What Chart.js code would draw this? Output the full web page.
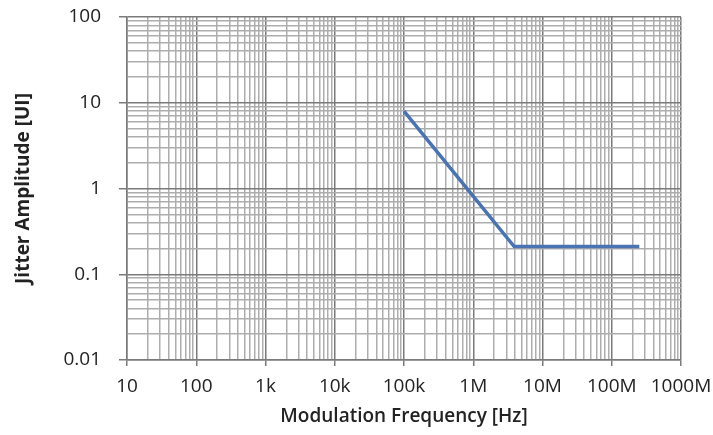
<!DOCTYPE html>
<html>
<head>
<meta charset="utf-8">
<script src="https://cdn.jsdelivr.net/npm/chart.js@4.4.1/dist/chart.umd.min.js"></script>
<style>
  html, body { margin: 0; padding: 0; background: #fff; }
  #wrap { width: 713px; height: 435px; }
</style>
</head>
<body>
<div id="wrap"><canvas id="jitterChart"></canvas></div>
<script>
// jitter tolerance mask: frequency (Hz) vs amplitude (UI)
const freqHz = [1e5, 3.9e6, 2.5e8];
const jitterUI = [8, 0.21, 0.21];

// decade ticks and the text shown under them
const xTickValues = [1e1, 1e2, 1e3, 1e4, 1e5, 1e6, 1e7, 1e8, 1e9];
const xTickLabels = ['10', '100', '1k', '10k', '100k', '1M', '10M', '100M', '1000M'];
const yTickValues = [0.01, 0.1, 1, 10, 100];
const yTickLabels = ['0.01', '0.1', '1', '10', '100'];

const ctx = document.getElementById('jitterChart');

// 1..9 inside every decade, so each minor line gets drawn
const decadeTicks = (majors) => {
	const out = [];
	for (let i = 0; i < majors.length - 1; i++) {
		for (let m = 1; m < 10; m++) {
			out.push({ value: majors[i] * m, major: m === 1 });
		}
	}
	out.push({ value: majors[majors.length - 1], major: true });
	return out;
};

const isMajor = (v, majors) => majors.some((m) => Math.abs(v / m - 1) < 1e-6);

const labelFor = (v, majors, labels) => {
	const i = majors.findIndex((m) => Math.abs(v / m - 1) < 1e-6);
	return i >= 0 ? labels[i] : '';
};

const gridColor = (majors) => (c) => (c.tick && isMajor(c.tick.value, majors) ? '#7a7a7a' : '#adadad');
const tickColor = (majors) => (c) => (c.tick && isMajor(c.tick.value, majors) ? '#7a7a7a' : 'rgba(0,0,0,0)');

const points = freqHz.map((f, i) => ({ x: f, y: jitterUI[i] }));

new Chart(ctx, {
	type: 'line',
	data: {
		datasets: [
			{
				data: points,
				borderColor: '#4a73b3',
				borderWidth: 3.5,
				pointRadius: 0,
				tension: 0,
				fill: false,
			},
		],
	},
	options: {
		responsive: true,
		maintainAspectRatio: false,
		animation: false,
		devicePixelRatio: 1,
		layout: { padding: { top: 17, right: 32, left: 0, bottom: 0 } },
		plugins: {
			legend: { display: false },
			tooltip: { enabled: false },
		},
		scales: {
			x: {
				type: 'logarithmic',
				min: 10,
				max: 1e9,
				border: { display: true, color: '#7a7a7a', width: 1.5 },
				grid: {
					color: gridColor(xTickValues),
					tickColor: tickColor(xTickValues),
					lineWidth: 1.5,
					tickLength: 6,
				},
				afterBuildTicks: (scale) => {
					scale.ticks = decadeTicks(xTickValues);
				},
				afterFit: (scale) => {
					scale.height = 75;
					scale.paddingLeft = 0;
					scale.paddingRight = 0;
				},
				ticks: {
					autoSkip: false,
					maxRotation: 0,
					padding: 9,
					color: '#222',
					font: { family: 'Open Sans', size: 19 },
					callback: (v) => labelFor(v, xTickValues, xTickLabels),
				},
				title: {
					display: true,
					text: 'Modulation Frequency [Hz]',
					color: '#222',
					font: { family: 'Open Sans', size: 19, weight: '600' },
					padding: { top: 0, bottom: 7 },
				},
			},
			y: {
				type: 'logarithmic',
				min: 0.01,
				max: 100,
				border: { display: true, color: '#7a7a7a', width: 1.5 },
				grid: {
					color: gridColor(yTickValues),
					tickColor: tickColor(yTickValues),
					lineWidth: 1.5,
					tickLength: 8,
				},
				afterBuildTicks: (scale) => {
					scale.ticks = decadeTicks(yTickValues);
				},
				afterFit: (scale) => {
					scale.width = 127;
					scale.paddingTop = 0;
					scale.paddingBottom = 0;
				},
				ticks: {
					autoSkip: false,
					padding: 18,
					color: '#222',
					font: { family: 'Open Sans', size: 19 },
					callback: (v) => labelFor(v, yTickValues, yTickLabels),
				},
				title: {
					display: true,
					text: 'Jitter Amplitude [UI]',
					color: '#222',
					font: { family: 'Open Sans', size: 19, weight: 'bold' },
					padding: { top: 12, bottom: 0 },
				},
			},
		},
	},
});
</script>
</body>
</html>
